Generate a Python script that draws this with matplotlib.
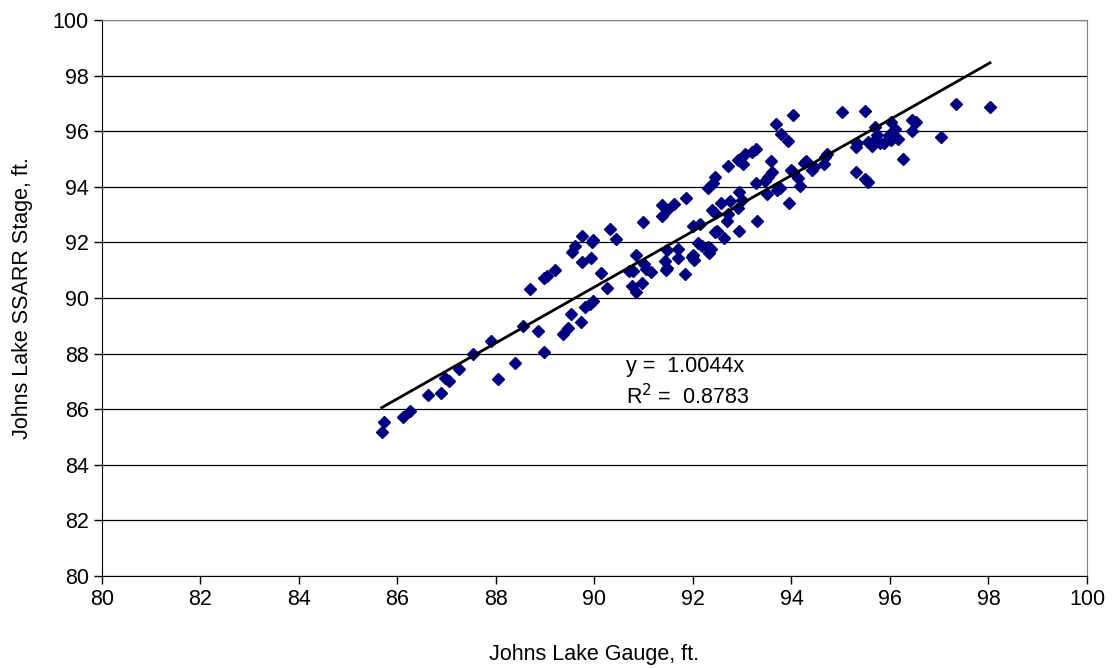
import matplotlib
matplotlib.use("Agg")
import matplotlib.pyplot as plt
import numpy as np

plt.rcParams['font.family'] = ['Liberation Sans', 'DejaVu Sans']

# gauge vs SSARR stage readings (ft.)
gauge = [85.68, 85.73, 86.12, 86.25, 86.61, 86.88, 86.96, 87.05, 87.24, 87.53,
         87.89, 88.05, 88.39, 88.55, 88.70, 88.85, 88.97, 88.98, 89.03, 89.20,
         89.37, 89.47, 89.53, 89.55, 89.60, 89.72, 89.74, 89.75, 89.81, 89.90,
         89.93, 89.95, 89.97, 89.96, 90.13, 90.25, 90.31, 90.43, 90.70, 90.77,
         90.78, 90.84, 90.85, 90.96, 90.98, 91.01, 91.04, 91.15, 91.37, 91.38,
         91.43, 91.45, 91.48, 91.48, 91.48, 91.61, 91.70, 91.70, 91.83, 91.85,
         91.98, 92.02, 92.01, 92.14, 92.10, 92.18, 92.31, 92.33, 92.31, 92.36,
         92.38, 92.41, 92.45, 92.44, 92.45, 92.48, 92.56, 92.62, 92.72, 92.70,
         92.72, 92.75, 92.92, 92.92, 92.94, 92.94, 92.99, 93.02, 93.06, 93.19,
         93.27, 93.27, 93.31, 93.46, 93.50, 93.52, 93.58, 93.60, 93.69, 93.71,
         93.76, 93.79, 93.92, 93.94, 93.99, 94.04, 94.04, 94.14, 94.17, 94.25,
         94.30, 94.41, 94.46, 94.67, 94.68, 94.73, 95.03, 95.30, 95.32, 95.34,
         95.49, 95.49, 95.56, 95.56, 95.64, 95.66, 95.70, 95.73, 95.80, 95.88,
         95.98, 96.02, 96.03, 96.11, 96.16, 96.26, 96.44, 96.52, 96.44, 97.03,
         97.35, 98.03, 92.00]
ssarr = [85.19, 85.53, 85.73, 85.95, 86.52, 86.59, 87.11, 87.00, 87.43, 87.97,
         88.46, 87.09, 87.65, 88.98, 90.33, 88.81, 88.05, 90.73, 90.79, 91.02,
         88.72, 88.93, 89.41, 91.65, 91.86, 89.13, 92.23, 91.31, 89.69, 89.80,
         91.43, 92.00, 92.10, 89.88, 90.89, 90.36, 92.48, 92.12, 90.97, 90.42,
         90.97, 90.20, 91.56, 90.55, 92.75, 91.23, 91.05, 90.92, 93.36, 92.96,
         91.32, 91.02, 91.08, 93.17, 91.74, 93.37, 91.75, 91.43, 90.86, 93.61,
         91.48, 91.36, 92.60, 92.67, 91.98, 91.88, 91.85, 91.62, 93.96, 91.75,
         93.17, 94.13, 94.35, 93.07, 92.38, 92.42, 93.42, 92.15, 93.02, 92.78,
         94.76, 93.50, 94.96, 93.23, 93.82, 92.42, 93.53, 94.83, 95.17, 95.24,
         95.35, 94.15, 92.78, 94.21, 93.74, 94.36, 94.93, 94.54, 96.25, 93.88,
         93.95, 95.89, 95.66, 93.41, 94.60, 94.54, 96.58, 94.31, 94.03, 94.85,
         94.93, 94.60, 94.72, 94.82, 95.08, 95.18, 96.68, 94.54, 95.44, 95.57,
         96.74, 94.27, 94.18, 95.62, 95.47, 95.62, 96.16, 95.86, 95.57, 95.57,
         95.86, 95.68, 96.34, 96.07, 95.71, 94.99, 96.40, 96.32, 96.02, 95.80,
         96.98, 96.86, 91.55]

slope = 1.0044
r2 = 0.8783

fig = plt.figure(figsize=(11.12, 6.68), dpi=100)
ax = fig.add_axes([0.0917, 0.1377, 0.8858, 0.8323])

ax.set_xlim(80, 100)
ax.set_ylim(80, 100)
ax.set_xticks(np.arange(80, 101, 2))
ax.set_yticks(np.arange(80, 101, 2))
ax.yaxis.grid(True, color='black', linewidth=0.9)
ax.set_axisbelow(True)

ax.plot(gauge, ssarr, linestyle='none', marker='D', markersize=6.3,
        color='#000080', zorder=3)

xs = np.array([min(gauge), max(gauge)])
ax.plot(xs, slope * xs, color='black', linewidth=2.0, zorder=4)

ax.text(90.64, 87.55, 'y =  %.4fx' % slope, fontsize=15.5, va='center')
ax.text(90.64, 86.44, 'R$^2$ =  %.4f' % r2, fontsize=15.5, va='center')

ax.set_xlabel('Johns Lake Gauge, ft.', fontsize=15.5, labelpad=24)
ax.set_ylabel('Johns Lake SSARR Stage, ft.', fontsize=15.5, labelpad=14)
ax.tick_params(labelsize=15.5, direction='out', length=5.5, width=1, pad=4)

for s in ['top', 'right']:
    ax.spines[s].set_color('#808080')
for s in ['left', 'bottom']:
    ax.spines[s].set_color('black')

fig.savefig('out.png', dpi=100)
